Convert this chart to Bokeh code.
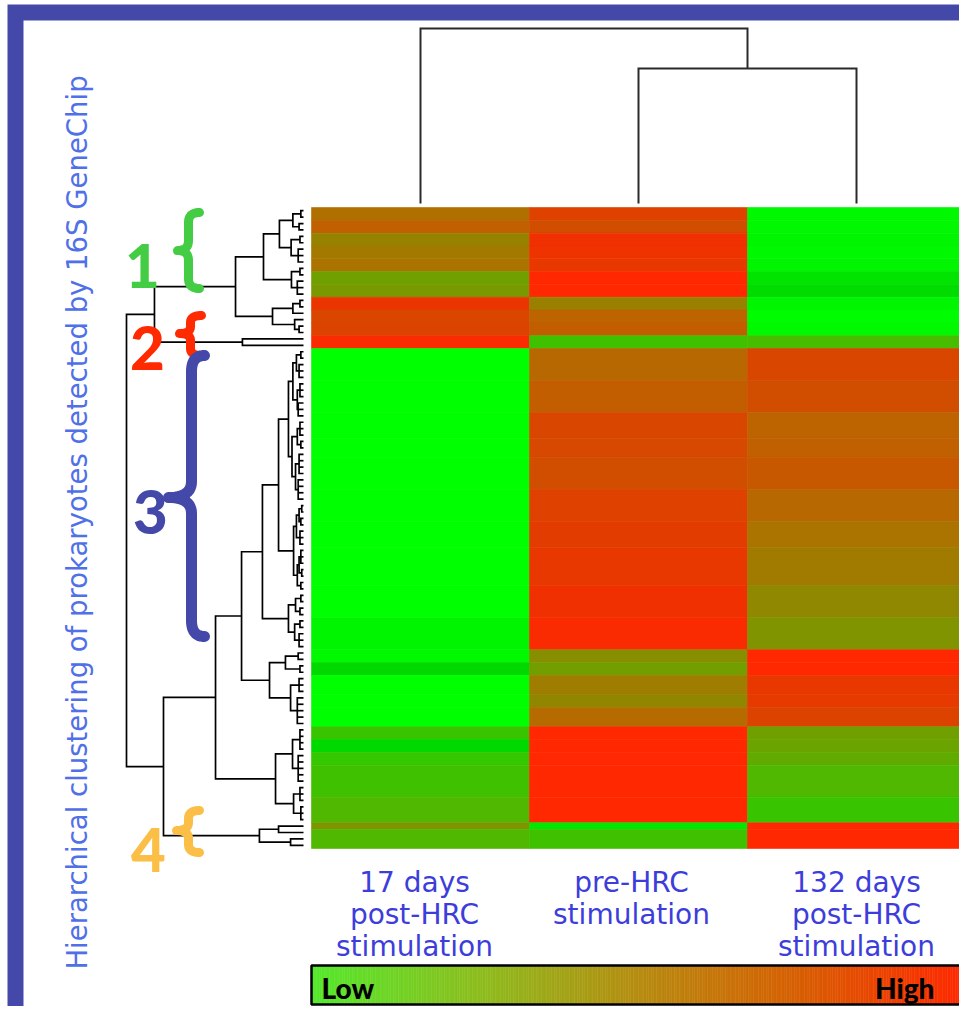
import numpy as np
from bokeh.plotting import figure
from bokeh.models import Range1d, ColumnDataSource, LinearColorMapper
from bokeh.core.properties import value
from bokeh.embed import file_html
from bokeh.resources import INLINE

# ---------------- data ----------------
column_names = ["17 days post-HRC stimulation", "pre-HRC stimulation", "132 days post-HRC stimulation"]
column_label_lines = [["17 days", "post-HRC", "stimulation"],
                      ["pre-HRC", "stimulation"],
                      ["132 days", "post-HRC", "stimulation"]]

# heatmap rows, grouped in bands of equal-looking rows (0 = low, 1 = high)
band_rows = [2, 2, 2, 2, 2, 2, 2, 2, 2, 2, 2,
             5, 5, 4, 3, 5, 5, 4, 6, 5, 5,
             2, 2, 3, 2, 3,
             2, 2, 2, 5, 4,
             1, 3]
v_17d = [0.69, 0.75, 0.59, 0.64, 0.67, 0.44, 0.47, 0.92, 0.85, 0.86, 0.98,
         0.00, 0.00, 0.00, 0.00, 0.00, 0.00, 0.00, 0.00, 0.00, 0.03,
         0.02, 0.12, 0.00, 0.00, 0.00,
         0.22, 0.12, 0.20, 0.25, 0.31,
         0.50, 0.31]
v_pre = [0.87, 0.82, 0.94, 0.93, 0.91, 1.00, 1.00, 0.60, 0.74, 0.76, 0.25,
         0.72, 0.76, 0.85, 0.84, 0.82, 0.87, 0.89, 0.91, 0.94, 0.98,
         0.53, 0.45, 0.62, 0.57, 0.71,
         1.00, 1.00, 1.00, 1.00, 1.00,
         0.06, 0.25]
v_132d = [0.02, 0.02, 0.03, 0.02, 0.03, 0.08, 0.11, 0.03, 0.01, 0.02, 0.28,
          0.85, 0.82, 0.74, 0.75, 0.78, 0.72, 0.67, 0.63, 0.56, 0.50,
          1.00, 1.00, 0.91, 0.90, 0.86,
          0.44, 0.42, 0.38, 0.31, 0.22,
          1.00, 1.00]

# column dendrogram ("x" = leaf, number after ")" = merge height)
column_tree = "(x(xx)0.771)1.0"

# row dendrogram sub-trees
t_c1u_a = "(((xx)0.015(xx)0.025)0.06((xx)0.02(xxx)0.03)0.07)0.136"
t_c1u_b = "((xx)0.02(xxx)0.035)0.068"
t_c1l = "(((xx)0.02x)0.06(x(xx)0.025)0.05)0.175"
t_c2 = "(xx)0.345"
t_e1 = "(((xx)0.015(xxx)0.025)0.04((xxx)0.02(xxx)0.03)0.035)0.06"
t_e2 = "(((xxx)0.02(xx)0.015)0.035((xxxx)0.025(xxxx)0.03)0.045)0.065"
t_f1 = "(((xx)0.01(xx)0.015)0.025(xxx)0.02)0.04"
t_f2 = "(((xxx)0.015(xx)0.01)0.025(xx)0.015)0.035"
t_g1 = "((xx)0.015(xx)0.02)0.045"
t_g2 = "((xx)0.02(xxx)0.025)0.05"
t_h1 = "((xx)0.03(xx)0.02)0.102"
t_h2 = "((xxx)0.025(xxxxx)0.035)0.073"
t_i1 = "((xxxx)0.02(xxxxx)0.03)0.062"
t_i2 = "((xxx)0.02(xxx)0.015)0.056"
t_c4 = "((xx)0.141(xx)0.073)0.249"

t_c1 = "((" + t_c1u_a + t_c1u_b + ")0.226" + t_c1l + ")0.384"
t_up = "(" + t_c1 + t_c2 + ")0.842"
t_d = "((" + t_e1 + t_e2 + ")0.085(" + t_f1 + t_f2 + ")0.056)0.141"
t_c = "(" + t_d + "(" + t_g1 + t_g2 + ")0.085)0.232"
t_b = "(" + t_c + "(" + t_h1 + t_h2 + ")0.192)0.350"
t_a = "(" + t_b + "(" + t_i1 + t_i2 + ")0.158)0.497"
t_low = "(" + t_a + t_c4 + ")0.791"
row_tree = "(" + t_up + t_low + ")1.0"

cluster_labels = ["1", "2", "3", "4"]

# ---------------- styling / layout ----------------
FRAME = "#4448a8"
cluster_colors = ["#44cc44", "#ff2a00", "#4448a8", "#fbbf47"]
label_pos = [(142, 265), (147, 347), (150, 511), (148, 849)]
label_shift = [-6, -7, 0]
# (x_tip, x_stem, x_end, y_top, y_mid, y_bot, r, width)
brace_specs = [(177, 188, 199, 212, 250, 288, 10, 9),
               (179, 190, 201, 315, 333, 355, 7, 9),
               (168, 191, 204, 355, 497, 636, 16, 11),
               (176, 188, 199, 810, 830, 852, 8, 9)]
HEAVY = value("Liberation Sans Narrow, Lato Black, Lato")

PX0, PX1, PY0, PY1 = 0, 959, 0, 1006


def xr(a, pa, b, pb):
    k = (b - a) / (pb - pa)
    return Range1d(start=a + (PX0 - pa) * k, end=a + (PX1 - pa) * k)


def yr(a, pa, b, pb):
    k = (b - a) / (pb - pa)
    return Range1d(start=a + (PY1 - pa) * k, end=a + (PY0 - pa) * k)


def parse(s):
    pos = 0

    def node():
        nonlocal pos
        if s[pos] == 'x':
            pos += 1
            return None
        pos += 1
        kids = []
        while s[pos] != ')':
            kids.append(node())
        pos += 1
        j = pos
        while j < len(s) and (s[j].isdigit() or s[j] == '.'):
            j += 1
        h = float(s[pos:j])
        pos = j
        return (h, kids)
    return node()


def dendro_paths(tree):
    hs, ps = [], []
    counter = [0]

    def lay(t):
        if t is None:
            p = counter[0] + 0.5
            counter[0] += 1
            return 0.0, p
        h, kids = t
        placed = [lay(k) for k in kids]
        (h0, p0), (h1, p1) = placed[0], placed[-1]
        hs.append([h0, h, h, h1])
        ps.append([p0, p0, p1, p1])
        for kh, kp in placed[1:-1]:
            hs.append([kh, h])
            ps.append([kp, kp])
        return h, (p0 + p1) / 2
    lay(tree)
    return hs, ps


def lerp_palette(anchors, n=256):
    vs = [a[0] for a in anchors]
    out = []
    for t in np.linspace(0, 1, n):
        rgb = [int(round(np.interp(t, vs, [a[1][i] for a in anchors]))) for i in range(3)]
        out.append("#%02x%02x%02x" % tuple(rgb))
    return out


heat_palette = lerp_palette([(0.0, (0, 255, 0)), (0.05, (0, 236, 0)), (0.12, (0, 216, 0)),
                             (0.20, (51, 200, 0)), (0.31, (80, 184, 0)), (0.44, (112, 160, 0)),
                             (0.60, (153, 128, 0)), (0.69, (176, 112, 0)), (0.82, (209, 78, 0)),
                             (0.94, (240, 48, 0)), (1.0, (255, 40, 0))])
bar_palette = lerp_palette([(0.0, (84, 232, 44)), (0.25, (140, 190, 30)), (0.5, (182, 140, 16)),
                            (0.75, (216, 94, 2)), (1.0, (255, 40, 0))])

p = figure(width=PX1 - PX0, height=PY1 - PY0, x_range=Range1d(PX0, PX1), y_range=Range1d(PY1, PY0),
           output_backend="svg", toolbar_location=None, min_border=0,
           x_axis_location=None, y_axis_location=None, outline_line_color=None)
p.grid.visible = False
p.background_fill_color = "white"
p.border_fill_color = "white"

p.extra_x_ranges = {"hx": xr(0, 311, 3, 965), "dx": xr(0, 303, 1, 126), "cb": xr(0, 311, 1, 965)}
p.extra_y_ranges = {"hy": yr(0, 207, 100, 848), "ty": yr(0, 203, 1, 28)}

# blue frame and white panel inside it
p.quad(left=7, right=1100, top=4, bottom=1100, fill_color=FRAME, line_color=None)
p.quad(left=23, right=972, top=20, bottom=1012, fill_color="white", line_color=None)

# heatmap: one cell per column for every band of rows
xs, ys, hs_, vs = [], [], [], []
row = 0
for n, a, b, c in zip(band_rows, v_17d, v_pre, v_132d):
    for ci, v in enumerate((a, b, c)):
        xs.append(ci + 0.5)
        ys.append(row + n / 2)
        hs_.append(n)
        vs.append(v)
    row += n
mapper = LinearColorMapper(palette=heat_palette, low=0, high=1)
hsrc = ColumnDataSource(dict(x=xs, y=ys, h=hs_, v=vs))
p.rect(x="x", y="y", width=1, height="h", source=hsrc,
       fill_color={"field": "v", "transform": mapper},
       line_color={"field": "v", "transform": mapper}, line_width=0.6,
       x_range_name="hx", y_range_name="hy")

# row dendrogram
rh, rp = dendro_paths(parse(row_tree))
p.multi_line(xs=rh, ys=rp, line_color="black", line_width=1.7, line_join="miter",
             x_range_name="dx", y_range_name="hy")
# column dendrogram
ch, cp = dendro_paths(parse(column_tree))
p.multi_line(xs=cp, ys=ch, line_color="#2a2a2a", line_width=2, line_join="miter",
             x_range_name="hx", y_range_name="ty")


# braces and cluster numbers
def qbez(p0, p1, p2, n=14):
    t = np.linspace(0, 1, n)[:, None]
    return (1 - t) ** 2 * p0 + 2 * (1 - t) * t * p1 + t ** 2 * p2


def brace(x_tip, x_stem, x_end, y_top, y_mid, y_bot, r):
    P = np.array
    segs = [qbez(P([x_end, y_top]), P([x_stem, y_top]), P([x_stem, y_top + r])),
            qbez(P([x_stem, y_mid - r]), P([x_stem, y_mid]), P([x_tip, y_mid])),
            qbez(P([x_tip, y_mid]), P([x_stem, y_mid]), P([x_stem, y_mid + r])),
            qbez(P([x_stem, y_bot - r]), P([x_stem, y_bot]), P([x_end, y_bot]))]
    pts = np.vstack(segs)
    return list(pts[:, 0]), list(pts[:, 1])


for spec, col in zip(brace_specs, cluster_colors):
    bx, by = brace(*spec[:7])
    p.line(bx, by, line_color=col, line_width=spec[7], line_cap="round", line_join="round")

p.text(x=[q[0] for q in label_pos], y=[q[1] for q in label_pos], text=cluster_labels,
       text_color=cluster_colors, text_font=HEAVY,
       text_font_style="bold", text_font_size="60px", text_align="center", text_baseline="middle")

# column labels
lx, ly, lt, lo = [], [], [], []
for ci, lines in enumerate(column_label_lines):
    for li, s in enumerate(lines):
        lx.append(ci + 0.5)
        ly.append(882 + 32 * li)
        lt.append(s)
        lo.append(label_shift[ci])
p.text(x=lx, y=ly, text=lt, x_offset=lo, x_range_name="hx", text_color="#3d3ddb",
       text_font=value("DejaVu Sans"), text_font_size="28px",
       text_align="center", text_baseline="middle")

# title
p.text(x=[76], y=[522], text=["Hierarchical clustering of prokaryotes detected by 16S GeneChip"],
       angle=np.pi / 2, text_color="#5070e8", text_font=value("DejaVu Sans"), text_font_size="27.5px",
       text_align="center", text_baseline="middle")

# colour bar
nb = len(bar_palette)
edges = np.linspace(0, 1, nb + 1)
p.quad(left=edges[:-1], right=edges[1:], top=965, bottom=1004, fill_color=bar_palette,
       line_color=bar_palette, line_width=0.5, x_range_name="cb")
p.quad(left=[0], right=[1], top=[965], bottom=[1004], fill_color=None, line_color="black",
       line_width=2.5, x_range_name="cb")
p.text(x=[0, 1], y=[987, 987], text=["Low", "High"], x_offset=[10, -31], x_range_name="cb",
       text_align=["left", "right"], text_baseline="middle", text_color="black",
       text_font=HEAVY, text_font_style="bold", text_font_size="28px")

open("out.html", "w").write(file_html(p, INLINE))
